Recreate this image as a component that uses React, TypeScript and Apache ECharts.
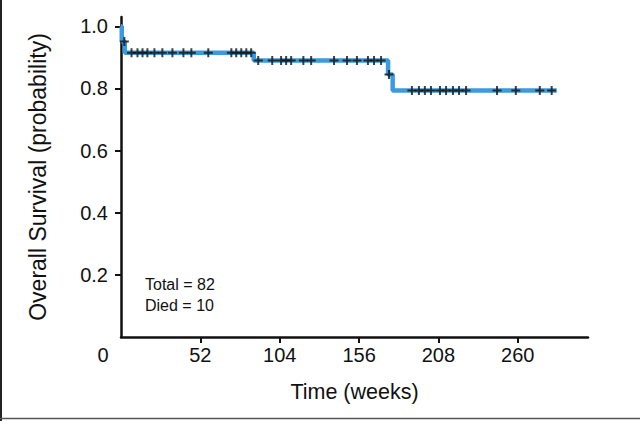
import React, { useEffect, useRef } from "react";
import * as echarts from "echarts";

// Kaplan-Meier curve: event times (weeks) and survival level after each event
const eventTimes = [0, 0.5, 2.5, 87, 175, 178];
const survival = [1.0, 0.951, 0.9146, 0.89, 0.845, 0.7935];
const endTime = 285.5;

// censored observations (weeks)
const censorTimes = [
  2.2, 6.9, 10.8, 14.1, 17.3, 21.9, 27.1, 33.7, 40.9, 46.1, 57.2, 72.3, 75.5, 78.8, 82.1, 85.3,
  89.9, 99.1, 104.9, 108.2, 111.5, 119.5, 124.6, 139.6, 148.1, 154.6, 161.8, 165.8, 170.4,
  175.6, 190.6, 195.2, 199.1, 203.1, 209, 213, 217.5, 221.5, 226.1, 246.4, 258.7, 274.4, 282.2,
];

const xTicks = [52, 104, 156, 208, 260];
const xLabels = [0, 52, 104, 156, 208, 260];
const yTicks = [0.2, 0.4, 0.6, 0.8, 1.0];

const annotation = ["Total = 82", "Died = 10"];

const FONT = "'Liberation Sans', Arial, Helvetica, sans-serif";
const PLUS = "path://M3.5,0h2v3.5h3.5v2h-3.5v3.5h-2v-3.5h-3.5v-2h3.5z";

function survAt(t: number): number {
  let s = survival[0];
  for (let i = 0; i < eventTimes.length; i++) {
    if (eventTimes[i] <= t) s = survival[i];
  }
  return s;
}

export default function App() {
  const ref = useRef<HTMLDivElement>(null);
  useEffect(() => {
    document.body.style.margin = "0";
    if (!ref.current) return;
    const chart = echarts.init(ref.current, undefined, { renderer: "svg" });
    const lineData = eventTimes.map((t, i) => [t, survival[i]]);
    lineData.push([endTime, survival[survival.length - 1]]);
    const censorData = censorTimes.map((t) => [t, survAt(t)]);
    chart.setOption({
      animation: false,
      backgroundColor: "#ffffff",
      grid: { left: 121, right: 52, top: 17, bottom: 84, containLabel: false },
      xAxis: {
        type: "value",
        min: 0,
        max: 306,
        interval: 52,
        name: "Time (weeks)",
        nameLocation: "middle",
        nameGap: 44,
        nameTextStyle: { fontFamily: FONT, fontSize: 21.5, color: "#111" },
        axisLine: { lineStyle: { color: "#111", width: 2.5 } },
        axisTick: { show: true, length: 6, lineStyle: { color: "#111", width: 2 }, customValues: xTicks },
        axisLabel: {
          customValues: xLabels,
          margin: 8,
          fontFamily: FONT,
          fontSize: 20,
          color: "#111",
          formatter: (v: number) => (v === 0 ? "{z|0}" : String(v)),
          rich: { z: { fontFamily: FONT, fontSize: 20, color: "#111", padding: [0, 36, 0, 0] } },
        },
        splitLine: { show: false },
      },
      yAxis: {
        type: "value",
        min: 0,
        max: 1.03,
        interval: 0.2,
        name: "Overall Survival (probability)",
        nameLocation: "middle",
        nameGap: 72,
        nameTextStyle: { fontFamily: FONT, fontSize: 23, color: "#111" },
        axisLine: { show: true, lineStyle: { color: "#111", width: 2.5 } },
        axisTick: { show: true, length: 6, lineStyle: { color: "#111", width: 2 }, customValues: yTicks },
        axisLabel: {
          customValues: yTicks,
          margin: 13,
          fontFamily: FONT,
          fontSize: 20,
          color: "#111",
          formatter: (v: number) => v.toFixed(1),
        },
        splitLine: { show: false },
      },
      series: [
        {
          type: "line",
          step: "end",
          data: lineData,
          showSymbol: false,
          lineStyle: { color: "#3b9ae0", width: 4.5 },
          z: 2,
        },
        {
          type: "scatter",
          data: censorData,
          symbol: PLUS,
          symbolSize: 9,
          itemStyle: { color: "#111" },
          z: 3,
        },
      ],
      graphic: [
        {
          type: "text",
          left: 145,
          top: 274,
          style: { text: annotation.join("\n"), fontFamily: FONT, fontSize: 16, lineHeight: 21, fill: "#111" },
        },
        { type: "line", shape: { x1: 1, y1: 0, x2: 1, y2: 421 }, style: { stroke: "#222", lineWidth: 2 } },
        { type: "line", shape: { x1: 0, y1: 418.5, x2: 640, y2: 418.5 }, style: { stroke: "#555", lineWidth: 1.5 } },
      ],
    });
    return () => chart.dispose();
  }, []);
  return <div ref={ref} style={{ width: 640, height: 421 }} />;
}
